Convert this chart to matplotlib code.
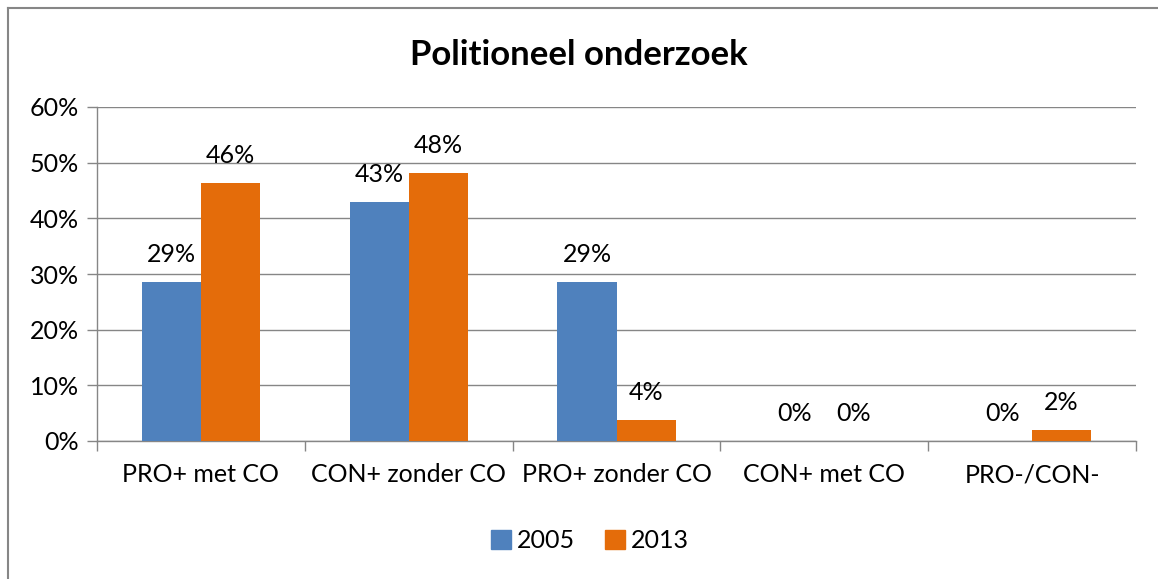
import matplotlib.pyplot as plt
from matplotlib.lines import Line2D
from matplotlib.patches import Patch

# data
categories = ["PRO+ met CO", "CON+ zonder CO", "PRO+ zonder CO", "CON+ met CO", "PRO-/CON-"]
values_2005 = [28.6, 42.9, 28.6, 0.0, 0.0]
values_2013 = [46.3, 48.1, 3.7, 0.0, 1.9]
series_names = ["2005", "2013"]
yticks = [0, 10, 20, 30, 40, 50, 60]

BLUE = "#4F81BD"
ORANGE = "#E46C0A"
GRAY = "#868686"
FS = 18

plt.rcParams["font.family"] = ["Lato", "DejaVu Sans"]

fig = plt.figure(figsize=(11.58, 5.79), dpi=100)
ax = fig.add_axes([97 / 1158, 1 - 441 / 579, 1039 / 1158, 334 / 579])

w = 0.284
x = list(range(len(categories)))
b1 = ax.bar([i - w / 2 for i in x], values_2005, width=w, color=BLUE, label=series_names[0], zorder=3)
b2 = ax.bar([i + w / 2 for i in x], values_2013, width=w, color=ORANGE, label=series_names[1], zorder=3)

for bars, vals in ((b1, values_2005), (b2, values_2013)):
    for rect, v in zip(bars, vals):
        ax.annotate(f"{v:.0f}%", (rect.get_x() + rect.get_width() / 2, v),
                    xytext=(0, 20), textcoords="offset points",
                    ha="center", va="center", fontsize=FS)

ax.set_xlim(-0.5, len(categories) - 0.5)
ax.set_ylim(0, 60)
ax.set_yticks(yticks)
ax.set_yticklabels([f"{t}%" for t in yticks])
ax.yaxis.grid(True, color=GRAY, linewidth=1, zorder=0)
ax.set_axisbelow(True)

# category boundary ticks on x axis
ax.set_xticks([i - 0.5 for i in range(len(categories) + 1)])
ax.set_xticklabels([])
ax.set_xticks(x, minor=True)
ax.set_xticklabels(categories, minor=True)
ax.tick_params(axis="x", which="minor", length=0, pad=16, labelsize=FS)
ax.tick_params(axis="x", which="major", length=7, color=GRAY, width=1)
ax.tick_params(axis="y", length=7, color=GRAY, width=1, labelsize=FS, pad=6)

for s in ("top", "right"):
    ax.spines[s].set_visible(False)
for s in ("left", "bottom"):
    ax.spines[s].set_color(GRAY)
    ax.spines[s].set_linewidth(1)

fig.text(0.5, 1 - 55 / 579, "Politioneel onderzoek", ha="center", va="center",
         fontsize=25, fontweight="bold")

handles = [Patch(color=BLUE), Patch(color=ORANGE)]
fig.legend(handles, series_names, loc="center", bbox_to_anchor=(590 / 1158, 1 - 541 / 579),
           ncol=2, frameon=False, fontsize=FS, handlelength=0.8, handleheight=0.8,
           handletextpad=0.25, columnspacing=1.2)

# outer chart frame (top and left edges visible)
fig.add_artist(Line2D([8 / 1158, 1], [1 - 8 / 579, 1 - 8 / 579], color=GRAY, linewidth=1.5))
fig.add_artist(Line2D([8 / 1158, 8 / 1158], [0, 1 - 8 / 579], color=GRAY, linewidth=1.5))

fig.savefig("out.png", dpi=100)
